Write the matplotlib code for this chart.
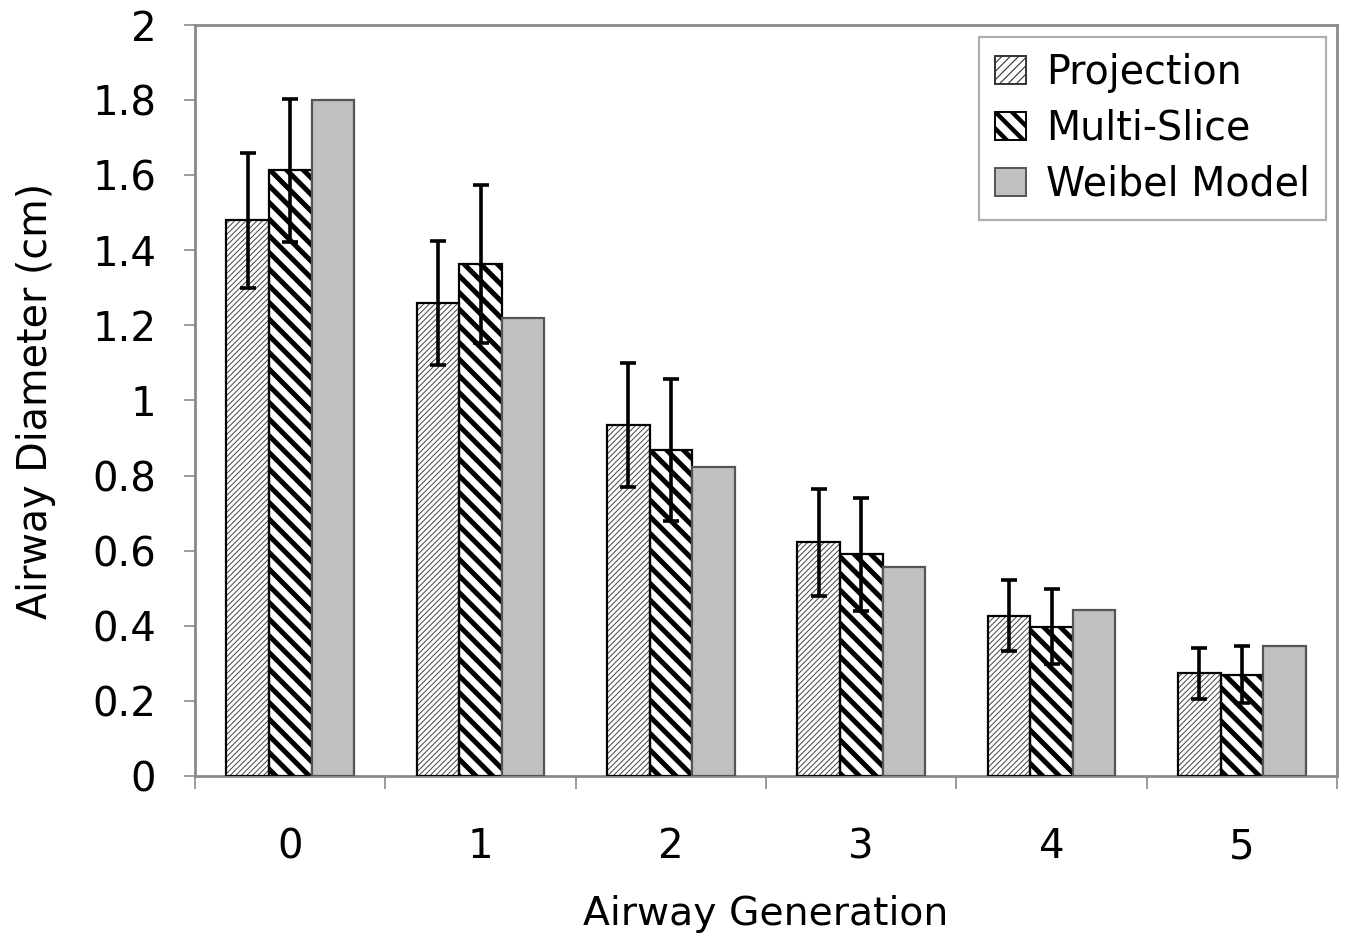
import matplotlib
matplotlib.use("Agg")
import matplotlib.pyplot as plt
from matplotlib.patches import Patch
from matplotlib.legend_handler import HandlerPatch
import numpy as np

generations = ["0", "1", "2", "3", "4", "5"]
series_names = ["Projection", "Multi-Slice", "Weibel Model"]
projection = [1.48, 1.26, 0.935, 0.622, 0.427, 0.273]
projection_err = [0.18, 0.165, 0.166, 0.142, 0.095, 0.067]
multislice = [1.613, 1.363, 0.868, 0.590, 0.398, 0.270]
multislice_err = [0.19, 0.21, 0.19, 0.15, 0.10, 0.076]
weibel = [1.80, 1.22, 0.823, 0.557, 0.442, 0.345]
yticks = [0, 0.2, 0.4, 0.6, 0.8, 1, 1.2, 1.4, 1.6, 1.8, 2]
ytick_labels = ["0", "0.2", "0.4", "0.6", "0.8", "1", "1.2", "1.4", "1.6", "1.8", "2"]

plt.rcParams['font.family'] = ['DejaVu Sans']

fig = plt.figure(figsize=(13.47, 9.4), dpi=100)
ax = fig.add_axes([0.1448, 0.1745, 0.8478, 0.7989])

x = np.arange(len(generations))
w = 0.224
spine_col = "#8a8a8a"

PROJ_HATCH = "//////"
MULTI_HATCH = "\\\\"


def hatched_bars(xpos, vals, hatch, hcol, hlw):
    with plt.rc_context({'hatch.linewidth': hlw}):
        bars = ax.bar(xpos, vals, w, color="white", edgecolor=hcol, hatch=hatch, linewidth=0, zorder=2)
    for b in bars:
        try:
            b.set_hatch_linewidth(hlw)
        except Exception:
            pass
    ax.bar(xpos, vals, w, fill=False, edgecolor="black", linewidth=1.6, zorder=3)


hatched_bars(x - w, projection, PROJ_HATCH, "#444444", 0.7)
hatched_bars(x, multislice, MULTI_HATCH, "black", 3.6)
ax.bar(x + w, weibel, w, color="#c0c0c0", edgecolor="#555555", linewidth=1.6, zorder=3)

ax.errorbar(x - w, projection, yerr=projection_err, fmt="none", ecolor="black",
            elinewidth=2.6, capsize=6, capthick=2.6, zorder=5)
ax.errorbar(x, multislice, yerr=multislice_err, fmt="none", ecolor="black",
            elinewidth=2.6, capsize=6, capthick=2.6, zorder=5)

ax.set_xlim(-0.5, len(generations) - 0.5)
ax.set_ylim(0, 2)
ax.set_yticks(yticks)
ax.set_yticklabels(ytick_labels)
ax.set_xticks(np.arange(-0.5, len(generations), 1.0))
ax.set_xticklabels([])
ax.set_xticks(x, minor=True)
ax.set_xticklabels(generations, minor=True)

ax.tick_params(axis="y", which="major", direction="out", length=8, width=1.2,
               color=spine_col, labelsize=29, pad=20)
ax.tick_params(axis="x", which="major", direction="out", length=9, width=1.2, color=spine_col)
ax.tick_params(axis="x", which="minor", length=0, labelsize=29, pad=37)

for s in ax.spines.values():
    s.set_color(spine_col)
    s.set_linewidth(2.0)

ax.set_xlabel("Airway Generation", fontsize=28.3, labelpad=20)
ax.set_ylabel("Airway Diameter (cm)", fontsize=28.5, labelpad=26)


class HatchLWHandler(HandlerPatch):
    def __init__(self, hlw, **kw):
        super().__init__(**kw)
        self.hlw = hlw

    def create_artists(self, *args, **kwargs):
        with plt.rc_context({'hatch.linewidth': self.hlw}):
            arts = super().create_artists(*args, **kwargs)
        for a in arts:
            try:
                a.set_hatch_linewidth(self.hlw)
            except Exception:
                pass
        return arts


h1 = Patch(facecolor="white", edgecolor="#333333", hatch="////", linewidth=1.4)
h2 = Patch(facecolor="white", edgecolor="black", hatch="\\\\", linewidth=1.4)
h3 = Patch(facecolor="#c0c0c0", edgecolor="#555555", linewidth=1.4)

leg = ax.legend([h1, h2, h3], series_names, loc="upper right",
                bbox_to_anchor=(0.9904, 0.984), borderaxespad=0,
                fontsize=28.5, frameon=True, fancybox=False, shadow=False,
                handlelength=0.8, handleheight=0.72, handletextpad=0.5,
                labelspacing=0.4, borderpad=0.4,
                handler_map={h1: HatchLWHandler(0.8), h2: HatchLWHandler(3.2),
                             h3: HandlerPatch()})
leg.get_frame().set_edgecolor("#9a9a9a")
leg.get_frame().set_linewidth(1.6)

fig.savefig("out.png", dpi=100, facecolor="white")
